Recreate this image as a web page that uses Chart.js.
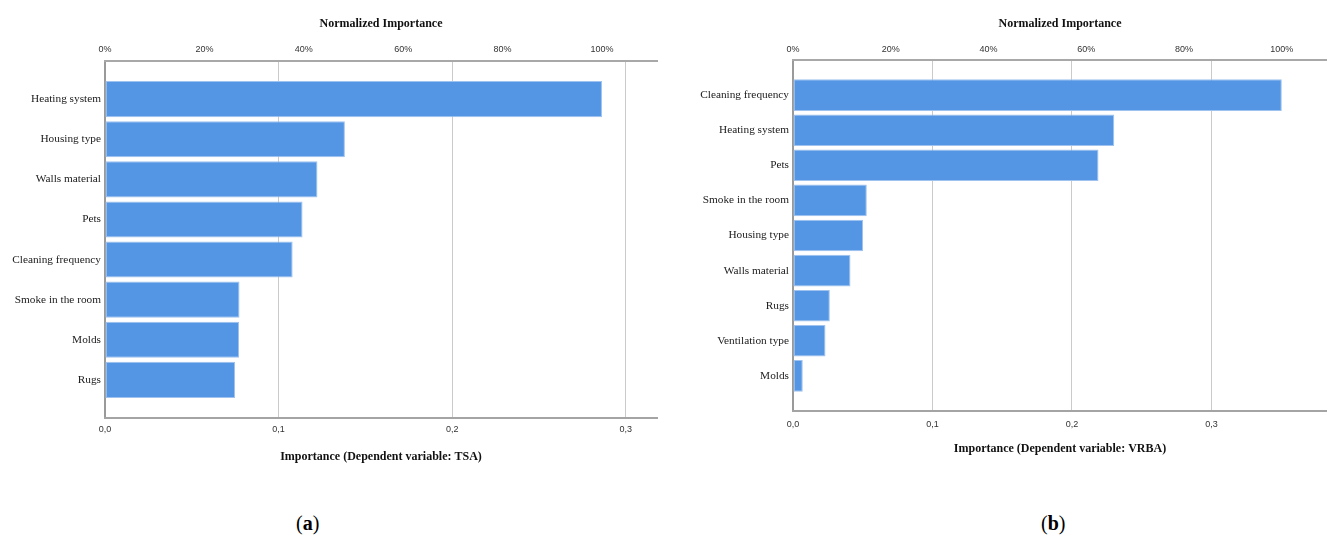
<!DOCTYPE html>
<html>
<head>
<meta charset="utf-8">
<title>Variable importance</title>
<script src="https://cdn.jsdelivr.net/npm/chart.js@4"></script>
<style>
  html, body { margin: 0; padding: 0; background: #fff; }
  body { width: 1327px; height: 541px; position: relative; overflow: hidden; }
  .panel { position: absolute; top: 0; height: 480px; }
  #panelA { left: 0; width: 670px; }
  #panelB { left: 670px; width: 657px; }
  .caption { position: absolute; top: 510px; font: 20px/26px "Liberation Serif", serif; color: #000; }
  #capA { left: 296px; }
  #capB { left: 1041px; }
</style>
</head>
<body>
<div class="panel" id="panelA"><canvas id="chartA"></canvas></div>
<div class="panel" id="panelB"><canvas id="chartB"></canvas></div>
<div class="caption" id="capA">(<b>a</b>)</div>
<div class="caption" id="capB">(<b>b</b>)</div>

<script>
// predictors and their importance, TSA model
const tsaLabels = ["Heating system", "Housing type", "Walls material", "Pets",
  "Cleaning frequency", "Smoke in the room", "Molds", "Rugs"];
const tsaImportance = [0.2863, 0.1382, 0.1224, 0.1138, 0.1081, 0.0775, 0.0772, 0.0749];

// predictors and their importance, VRBA model
const vrbaLabels = ["Cleaning frequency", "Heating system", "Pets", "Smoke in the room",
  "Housing type", "Walls material", "Rugs", "Ventilation type", "Molds"];
const vrbaImportance = [0.3504, 0.2303, 0.2190, 0.0529, 0.0503, 0.0412, 0.0264, 0.0233, 0.0070];

const importanceTicks = [0, 0.1, 0.2, 0.3];
const percentTicks = [0, 20, 40, 60, 80, 100];

const barColor = "#5596e4";
const tickFont = { family: "'Liberation Sans', sans-serif", size: 9 };
const labelFont = { family: "'Liberation Serif', serif", size: 11.3 };
const titleFont = { family: "'Liberation Serif', serif", size: 12, weight: "bold" };

function importanceChart(id, labels, values, cfg) {
  const maxVal = Math.max(...values);
  return new Chart(document.getElementById(id), {
    type: "bar",
    data: {
      datasets: [{
        data: values.map((v, i) => ({ x: v, y: i })),
        backgroundColor: barColor,
        borderColor: "#9fc2ef",
        borderWidth: 1,
        borderSkipped: false,
        categoryPercentage: 1,
        barPercentage: 0.9,
        xAxisID: "x",
        yAxisID: "y"
      }]
    },
    options: {
      indexAxis: "y",
      responsive: true,
      maintainAspectRatio: false,
      animation: false,
      devicePixelRatio: 1,
      layout: { padding: { left: 0, top: 0, bottom: 0, right: cfg.rightPad } },
      plugins: { legend: { display: false }, tooltip: { enabled: false } },
      scales: {
        // index axis kept linear so the empty band above and below the bars can be set
        y: {
          type: "linear",
          reverse: true,
          offset: false,
          bounds: "data",
          min: -cfg.yPad,
          max: labels.length - 1 + cfg.yPad,
          afterBuildTicks: s => { s.ticks = labels.map((_, i) => ({ value: i })); },
          afterFit: s => { s.width = cfg.leftWidth; },
          grid: { color: "transparent", drawTicks: false, offset: false },
          border: { color: "#9a9a9a", width: 2 },
          ticks: {
            autoSkip: false,
            padding: 4,
            color: "#1a1a1a",
            font: labelFont,
            callback: v => labels[v] ?? ""
          }
        },
        x: {
          type: "linear",
          position: "bottom",
          bounds: "data",
          min: 0,
          max: cfg.xMax,
          afterBuildTicks: s => { s.ticks = importanceTicks.map(v => ({ value: v })); },
          afterFit: s => { s.height = cfg.bottomHeight; },
          grid: {
            drawTicks: false,
            lineWidth: 1,
            color: ctx => (ctx.tick && ctx.tick.value === 0 ? "transparent" : "#cacaca")
          },
          border: { color: "#a4a4a4", width: 2 },
          ticks: {
            autoSkip: false,
            maxRotation: 0,
            padding: cfg.bottomTickPad,
            color: "#333",
            font: tickFont,
            callback: v => v.toFixed(1).replace(".", ",")
          },
          title: {
            display: true,
            text: cfg.title,
            color: "#111",
            font: titleFont,
            padding: { top: 0, bottom: cfg.bottomTitlePad }
          }
        },
        // percent of the largest importance
        x2: {
          type: "linear",
          position: "top",
          bounds: "data",
          min: 0,
          max: cfg.xMax / maxVal * 100,
          afterBuildTicks: s => { s.ticks = percentTicks.map(v => ({ value: v })); },
          afterFit: s => { s.height = cfg.topHeight; },
          grid: { color: "transparent", drawTicks: false },
          border: { color: "#a8a8a8", width: 2 },
          ticks: {
            autoSkip: false,
            maxRotation: 0,
            padding: cfg.topTickPad,
            color: "#333",
            font: tickFont,
            callback: v => v + "%"
          },
          title: {
            display: true,
            text: "Normalized Importance",
            color: "#111",
            font: titleFont,
            padding: { top: 17, bottom: 0 }
          }
        }
      }
    }
  });
}

importanceChart("chartA", tsaLabels, tsaImportance, {
  xMax: 0.318, yPad: 0.95, leftWidth: 105, topHeight: 61, bottomHeight: 62, rightPad: 13,
  topTickPad: 6, bottomTickPad: 6, bottomTitlePad: 16,
  title: "Importance (Dependent variable: TSA)"
});

importanceChart("chartB", vrbaLabels, vrbaImportance, {
  xMax: 0.3828, yPad: 1, leftWidth: 123, topHeight: 60, bottomHeight: 69, rightPad: 0,
  topTickPad: 5, bottomTickPad: 8, bottomTitlePad: 24,
  title: "Importance (Dependent variable: VRBA)"
});
</script>
</body>
</html>
